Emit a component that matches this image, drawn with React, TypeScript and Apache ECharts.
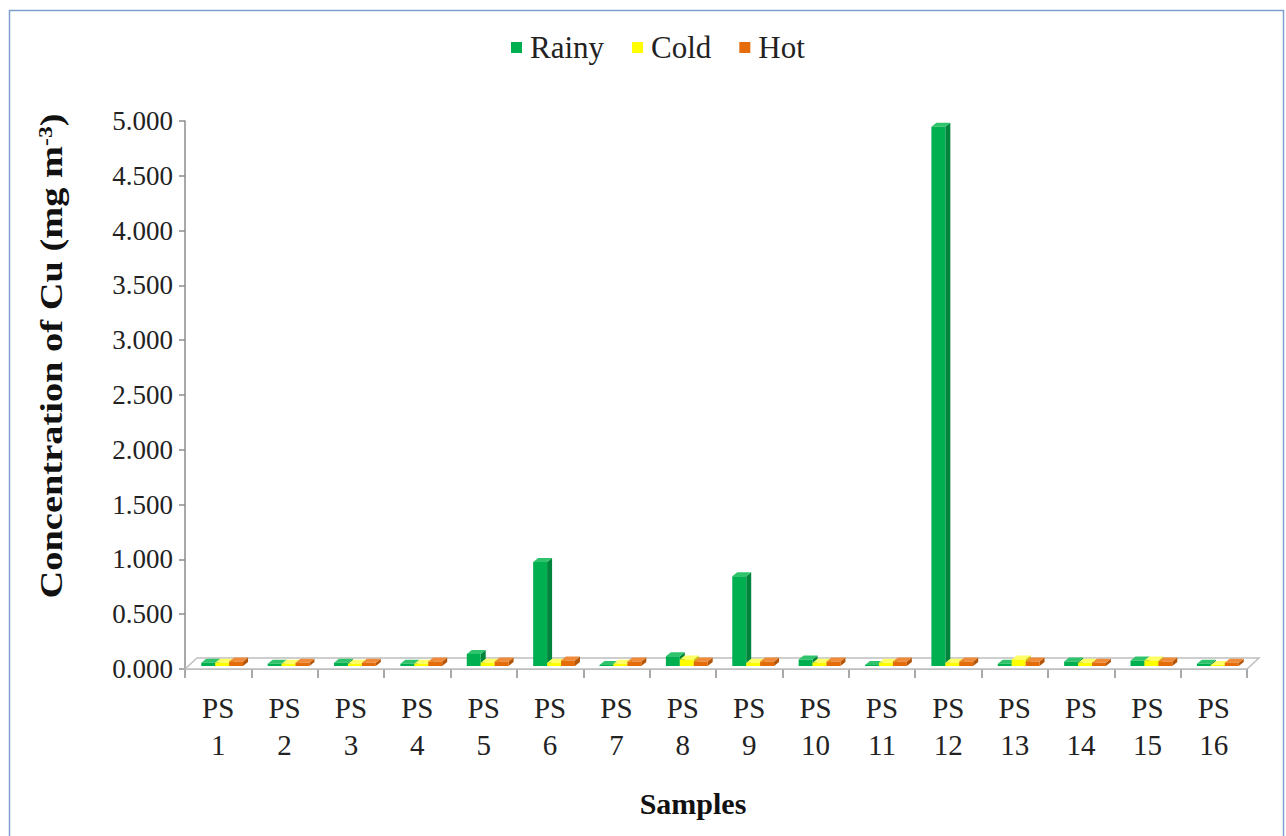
import React, { useEffect, useRef } from "react";
import * as echarts from "echarts";

// Sampling points
const categories = [
  "PS 1", "PS 2", "PS 3", "PS 4", "PS 5", "PS 6", "PS 7", "PS 8",
  "PS 9", "PS 10", "PS 11", "PS 12", "PS 13", "PS 14", "PS 15", "PS 16",
];

// Cu concentration (mg m-3) per season
const rainy = [0.03, 0.02, 0.03, 0.02, 0.11, 0.95, 0.01, 0.09, 0.82, 0.06, 0.01, 4.92, 0.02, 0.04, 0.05, 0.02];
const cold = [0.03, 0.02, 0.02, 0.02, 0.03, 0.03, 0.02, 0.06, 0.03, 0.03, 0.03, 0.03, 0.06, 0.03, 0.05, 0.01];
const hot = [0.04, 0.03, 0.03, 0.04, 0.04, 0.05, 0.04, 0.04, 0.04, 0.04, 0.04, 0.04, 0.04, 0.03, 0.04, 0.03];

const seriesNames = ["Rainy", "Cold", "Hot"];
const yTicks = { min: 0, max: 5, interval: 0.5 };

const FONT = "Liberation Serif";

const palette = [
  { front: "#00B050", side: "#00843c", top: "#2fc46c" },
  { front: "#FFFF00", side: "#c8c800", top: "#ffff66" },
  { front: "#E46C0A", side: "#b45508", top: "#ef8a3a" },
];

// Pseudo-3D column: front face, top cap and right side face
function makeBarRenderer(slot: number) {
  return (params: any, api: any) => {
    const ci = api.value(0);
    const v = api.value(1);
    const band = api.size([1, 0])[0];
    const base = api.coord([ci, 0]);
    const topPt = api.coord([ci, v]);
    const lift = 3;
    const w = band * 0.21;
    const l = base[0] - band / 2 + band * (0.2 + slot * 0.21) + lift;
    const yb = base[1] - lift;
    const yt = topPt[1] - lift;
    const dx = 5;
    const dy = -4;
    const c = palette[slot];
    return {
      type: "group",
      children: [
        {
          type: "polygon",
          shape: { points: [[l + w, yt], [l + w + dx, yt + dy], [l + w + dx, yb + dy], [l + w, yb]] },
          style: { fill: c.side },
        },
        {
          type: "polygon",
          shape: { points: [[l, yt], [l + dx, yt + dy], [l + w + dx, yt + dy], [l + w, yt]] },
          style: { fill: c.top },
        },
        {
          type: "rect",
          shape: { x: l, y: yt, width: w, height: Math.max(yb - yt, 0.5) },
          style: { fill: c.front },
        },
      ],
    };
  };
}

// Floor plane under the columns
function renderFloor(params: any, api: any) {
  const band = api.size([1, 0])[0];
  const first = api.coord([0, 0]);
  const last = api.coord([categories.length - 1, 0]);
  const left = first[0] - band / 2;
  const right = last[0] + band / 2;
  const y = first[1];
  return {
    type: "polygon",
    shape: { points: [[left, y], [left + 12, y - 11], [right + 12, y - 11], [right, y]] },
    style: { fill: "#ffffff", stroke: "#bfbfbf", lineWidth: 1.5 },
  };
}

export default function App() {
  const ref = useRef<HTMLDivElement>(null);

  useEffect(() => {
    if (!ref.current) return;
    const chart = echarts.init(ref.current, undefined, { renderer: "svg" });
    const values = [rainy, cold, hot];

    const option: any = {
      animation: false,
      backgroundColor: "#ffffff",
      textStyle: { fontFamily: FONT },
      legend: {
        data: seriesNames,
        left: 506,
        top: 27,
        icon: "rect",
        itemWidth: 11,
        itemHeight: 11,
        itemGap: 28,
        textStyle: { fontFamily: FONT, fontSize: 31, color: "#222", padding: [0, 0, 0, 3] },
      },
      grid: { left: 185, right: 39, top: 121, bottom: 167 },
      xAxis: {
        type: "category",
        data: categories,
        boundaryGap: true,
        axisLine: { show: true, lineStyle: { color: "#a6a6a6", width: 1.5 } },
        axisTick: { show: true, length: 9, lineStyle: { color: "#8c8c8c", width: 1.5 } },
        axisLabel: {
          interval: 0,
          margin: 20,
          fontFamily: FONT,
          fontSize: 29,
          lineHeight: 37,
          color: "#222",
          formatter: (v: string) => v.replace(" ", "\n"),
        },
      },
      yAxis: {
        type: "value",
        min: yTicks.min,
        max: yTicks.max,
        interval: yTicks.interval,
        axisLine: { show: true, lineStyle: { color: "#8c8c8c", width: 1.5 } },
        axisTick: { show: true, length: 6, lineStyle: { color: "#8c8c8c", width: 1.5 } },
        splitLine: { show: false },
        axisLabel: {
          margin: 12,
          fontFamily: FONT,
          fontSize: 27,
          color: "#222",
          formatter: (v: number) => v.toFixed(3),
        },
      },
      graphic: [
        {
          type: "rect",
          shape: { x: 9.5, y: 10.5, width: 1274, height: 900 },
          style: { fill: "none", stroke: "#7f9fd0", lineWidth: 1.5 },
          silent: true,
          z: -10,
        },
        {
          type: "text",
          x: 52,
          y: 356,
          rotation: Math.PI / 2,
          scaleX: 1.24,
          style: {
            text: "{a|Concentration of Cu (mg m}{s|-3}{a|)}",
            align: "center",
            verticalAlign: "middle",
            rich: {
              a: { fontFamily: FONT, fontSize: 31, fontWeight: "bold", fill: "#111" },
              s: { fontFamily: FONT, fontSize: 19, fontWeight: "bold", fill: "#111", verticalAlign: "top", padding: [0, 0, 12, 0] },
            },
          },
        },
        {
          type: "text",
          x: 693,
          y: 803,
          style: {
            text: "Samples",
            align: "center",
            verticalAlign: "middle",
            fontFamily: FONT,
            fontSize: 30,
            fontWeight: "bold",
            fill: "#111",
          },
        },
      ],
      series: [
        {
          type: "custom",
          name: "floor",
          data: [[0, 0]],
          encode: { x: 0, y: 1 },
          renderItem: renderFloor,
          silent: true,
          z: 1,
        },
        ...seriesNames.map((name, s) => ({
          type: "custom",
          name,
          data: values[s].map((v, i) => [i, v]),
          encode: { x: 0, y: 1 },
          itemStyle: { color: palette[s].front },
          renderItem: makeBarRenderer(s),
          z: 2,
        })),
      ],
    };

    chart.setOption(option);
    return () => chart.dispose();
  }, []);

  return (
    <div
      ref={ref}
      style={{ position: "absolute", left: 0, top: 0, width: 1286, height: 836 }}
    />
  );
}
